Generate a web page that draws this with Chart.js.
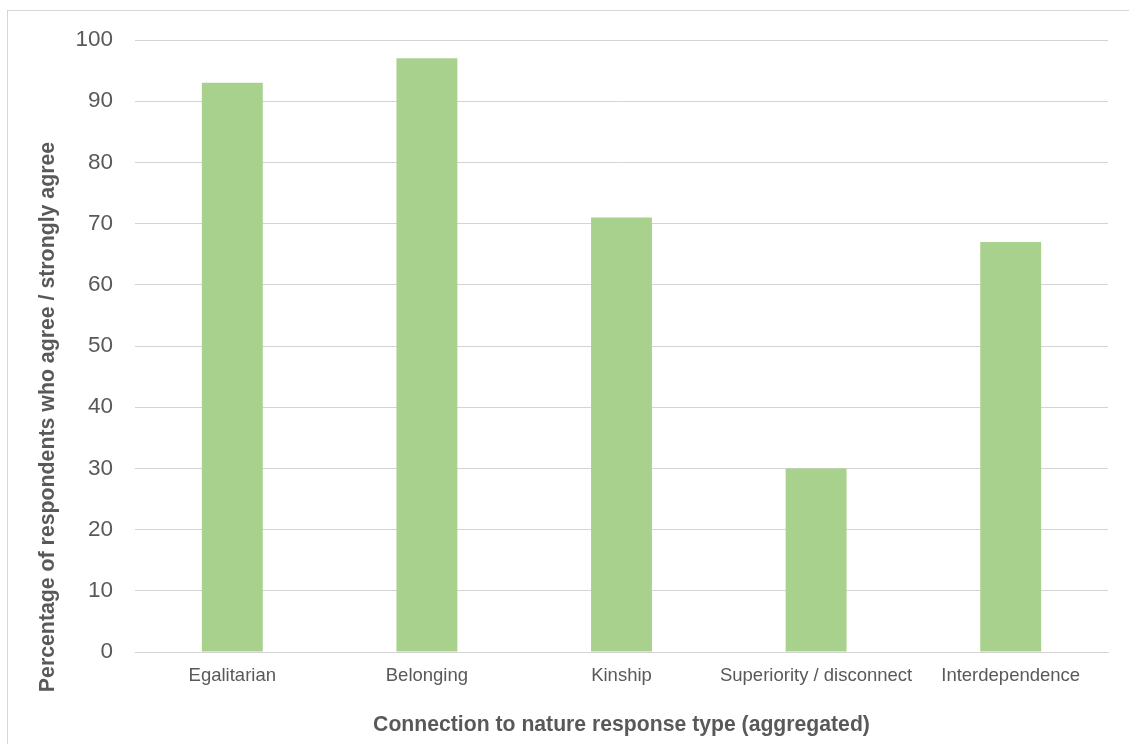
<!DOCTYPE html>
<html>
<head>
<meta charset="utf-8">
<title>Connection to nature response type</title>
<script src="https://cdn.jsdelivr.net/npm/chart.js@4.4.1/dist/chart.umd.min.js"></script>
<style>
  html, body { margin: 0; padding: 0; background: #ffffff; overflow: hidden; }
  #frame {
    position: absolute; left: 7px; top: 10px;
    width: 1140px; height: 760px;
    border: 1px solid #d6d6d6; box-sizing: border-box;
  }
  #wrap { position: absolute; left: 0; top: 0; width: 1129px; height: 744px; }
</style>
</head>
<body>
<div id="frame"></div>
<div id="wrap"><canvas id="chart" width="1129" height="744"></canvas></div>
<script>
// Response types and share of respondents agreeing (%)
const categories = ['Egalitarian', 'Belonging', 'Kinship', 'Superiority / disconnect', 'Interdependence'];
const agreeShare = [93, 97, 71, 30, 67];
const yTicks = { min: 0, max: 100, step: 10 };
const xTitle = 'Connection to nature response type (aggregated)';
const yTitle = 'Percentage of respondents who agree / strongly agree';

const textColor = '#595959';
const gridColor = '#d4d4d4';
const barColor = '#a9d18e';
const fontFamily = 'Arial, "Liberation Sans", Helvetica, sans-serif';

// Vertical axis title, placed against the whole chart frame
const yTitlePlugin = {
  id: 'yTitle',
  afterDraw(chart) {
    const ctx = chart.ctx;
    ctx.save();
    ctx.translate(48, 417);
    ctx.rotate(-Math.PI / 2);
    ctx.font = 'bold 21.3px ' + fontFamily;
    ctx.fillStyle = textColor;
    ctx.textAlign = 'center';
    ctx.textBaseline = 'middle';
    ctx.fillText(yTitle, 0, 0);
    ctx.restore();
  }
};

new Chart(document.getElementById('chart'), {
  type: 'bar',
  data: {
    labels: categories,
    datasets: [{
      data: agreeShare,
      backgroundColor: barColor,
      borderWidth: 0,
      categoryPercentage: 1,
      barPercentage: 0.313
    }]
  },
  options: {
    responsive: false,
    animation: false,
    devicePixelRatio: 1,
    layout: { padding: { top: 40, right: 21, bottom: 0, left: 0 } },
    plugins: { legend: { display: false }, tooltip: { enabled: false } },
    scales: {
      x: {
        grid: { display: false, drawTicks: false },
        border: { display: true, color: gridColor, width: 1 },
        ticks: {
          color: textColor,
          font: { family: fontFamily, size: 18.5 },
          padding: 13,
          maxRotation: 0,
          autoSkip: false
        },
        title: {
          display: true,
          text: xTitle,
          color: textColor,
          font: { family: fontFamily, size: 21.2, weight: 'bold' },
          padding: { top: 0, bottom: 6 }
        },
        afterFit(scale) { scale.height = 92; }
      },
      y: {
        min: yTicks.min,
        max: yTicks.max,
        grid: { color: gridColor, lineWidth: 1, drawTicks: false },
        border: { display: false },
        ticks: {
          stepSize: yTicks.step,
          color: textColor,
          font: { family: fontFamily, size: 22.5, lineHeight: 1.4 },
          padding: 22
        },
        afterFit(scale) { scale.width = 135; }
      }
    }
  },
  plugins: [yTitlePlugin]
});
</script>
</body>
</html>
